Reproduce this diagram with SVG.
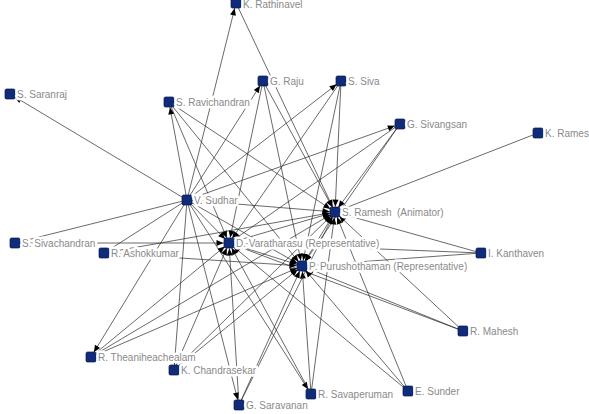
<svg xmlns="http://www.w3.org/2000/svg" width="589" height="414" viewBox="0 0 589 414">
<style>
.bg{fill:#ffffff}
.e line{stroke:#2a2a2a;stroke-width:0.7;fill:none}
.a{marker-end:url(#ah)}
.b{marker-end:url(#ah);marker-start:url(#ahs)}
.n rect{fill:#102b7a;stroke:#0a1640;stroke-width:0.7}
.n text{font-family:"Liberation Sans",Arial,sans-serif;font-size:10px;fill:#8a8a8a;stroke:#ffffff;stroke-width:5;stroke-linejoin:round;paint-order:stroke}
</style>
<defs>
<marker id="ah" markerUnits="userSpaceOnUse" markerWidth="14" markerHeight="6" refX="12.5" refY="3" orient="auto" overflow="visible">
<path d="M0,0 L7,3 L0,6 z" fill="#000"/>
</marker>
<marker id="ahs" markerUnits="userSpaceOnUse" markerWidth="14" markerHeight="6" refX="12.5" refY="3" orient="auto-start-reverse" overflow="visible">
<path d="M0,0 L7,3 L0,6 z" fill="#000"/>
</marker>
</defs>
<rect class="bg" x="0" y="0" width="589" height="414"/>
<g id="connectors" class="e">
<line class="a" x1="187" y1="200" x2="10" y2="94"/>
<line class="a" x1="187" y1="200" x2="236" y2="3"/>
<line class="a" x1="187" y1="200" x2="169" y2="102"/>
<line class="a" x1="187" y1="200" x2="263" y2="81"/>
<line class="a" x1="187" y1="200" x2="341" y2="81"/>
<line class="a" x1="187" y1="200" x2="400" y2="124"/>
<line x1="187" y1="200" x2="15" y2="243"/>
<line x1="187" y1="200" x2="104" y2="253"/>
<line class="a" x1="187" y1="200" x2="91" y2="357"/>
<line class="a" x1="187" y1="200" x2="174" y2="370"/>
<line class="a" x1="187" y1="200" x2="239" y2="405"/>
<line class="a" x1="187" y1="200" x2="311" y2="394"/>
<line class="a" x1="187" y1="200" x2="335" y2="212"/>
<line class="a" x1="187" y1="200" x2="229" y2="243"/>
<line class="a" x1="187" y1="200" x2="302" y2="266"/>
<line class="a" x1="236" y1="3" x2="335" y2="212"/>
<line class="a" x1="169" y1="102" x2="229" y2="243"/>
<line class="a" x1="169" y1="102" x2="302" y2="266"/>
<line class="a" x1="169" y1="102" x2="335" y2="212"/>
<line class="a" x1="263" y1="81" x2="229" y2="243"/>
<line class="a" x1="263" y1="81" x2="302" y2="266"/>
<line class="a" x1="263" y1="81" x2="335" y2="212"/>
<line class="a" x1="341" y1="81" x2="229" y2="243"/>
<line class="a" x1="341" y1="81" x2="302" y2="266"/>
<line class="a" x1="341" y1="81" x2="335" y2="212"/>
<line class="a" x1="400" y1="124" x2="229" y2="243"/>
<line class="a" x1="400" y1="124" x2="302" y2="266"/>
<line class="a" x1="400" y1="124" x2="335" y2="212"/>
<line class="a" x1="538" y1="133" x2="335" y2="212"/>
<line class="a" x1="481" y1="253" x2="335" y2="212"/>
<line class="a" x1="481" y1="253" x2="229" y2="243"/>
<line class="a" x1="481" y1="253" x2="302" y2="266"/>
<line class="a" x1="463" y1="331" x2="335" y2="212"/>
<line class="a" x1="463" y1="331" x2="229" y2="243"/>
<line class="a" x1="463" y1="331" x2="302" y2="266"/>
<line class="a" x1="408" y1="391" x2="335" y2="212"/>
<line class="a" x1="408" y1="391" x2="229" y2="243"/>
<line class="a" x1="408" y1="391" x2="302" y2="266"/>
<line class="a" x1="311" y1="394" x2="335" y2="212"/>
<line class="a" x1="311" y1="394" x2="229" y2="243"/>
<line class="a" x1="311" y1="394" x2="302" y2="266"/>
<line class="a" x1="239" y1="405" x2="229" y2="243"/>
<line class="a" x1="239" y1="405" x2="302" y2="266"/>
<line class="a" x1="239" y1="405" x2="335" y2="212"/>
<line class="a" x1="174" y1="370" x2="229" y2="243"/>
<line class="a" x1="174" y1="370" x2="302" y2="266"/>
<line class="a" x1="174" y1="370" x2="335" y2="212"/>
<line class="a" x1="91" y1="357" x2="229" y2="243"/>
<line class="a" x1="91" y1="357" x2="302" y2="266"/>
<line class="a" x1="91" y1="357" x2="335" y2="212"/>
<line class="a" x1="104" y1="253" x2="335" y2="212"/>
<line class="a" x1="104" y1="253" x2="302" y2="266"/>
<line class="a" x1="15" y1="243" x2="229" y2="243"/>
<line class="b" x1="229" y1="243" x2="302" y2="266"/>
<line class="b" x1="229" y1="243" x2="335" y2="212"/>
<line class="b" x1="302" y1="266" x2="335" y2="212"/>
</g>
<g id="n-rathinavel" class="n"><rect x="231" y="-2" width="10" height="10" rx="1.5"/><text x="243" y="8">K. Rathinavel</text></g>
<g id="n-raju" class="n"><rect x="258" y="76" width="10" height="10" rx="1.5"/><text x="270" y="85">G. Raju</text></g>
<g id="n-saranraj" class="n"><rect x="5" y="89" width="10" height="10" rx="1.5"/><text x="17" y="98">S. Saranraj</text></g>
<g id="n-ravichandran" class="n"><rect x="164" y="97" width="10" height="10" rx="1.5"/><text x="176" y="106">S. Ravichandran</text></g>
<g id="n-siva" class="n"><rect x="336" y="76" width="10" height="10" rx="1.5"/><text x="348" y="85">S. Siva</text></g>
<g id="n-sivangsan" class="n"><rect x="395" y="119" width="10" height="10" rx="1.5"/><text x="407" y="128">G. Sivangsan</text></g>
<g id="n-rames" class="n"><rect x="533" y="128" width="10" height="10" rx="1.5"/><text x="545" y="137">K. Rames</text></g>
<g id="n-sudhar" class="n"><rect x="182" y="195" width="10" height="10" rx="1.5"/><text x="194" y="204">V. Sudhar</text></g>
<g id="n-sivachandran" class="n"><rect x="10" y="238" width="10" height="10" rx="1.5"/><text x="22" y="247">S. Sivachandran</text></g>
<g id="n-ashokkumar" class="n"><rect x="99" y="248" width="10" height="10" rx="1.5"/><text x="111" y="257">R. Ashokkumar</text></g>
<g id="n-ramesh" class="n"><rect x="330" y="207" width="10" height="10" rx="1.5"/><text x="342" y="216" xml:space="preserve">S. Ramesh  (Animator)</text></g>
<g id="n-varatharasu" class="n"><rect x="224" y="238" width="10" height="10" rx="1.5"/><text x="236" y="247">D. Varatharasu (Representative)</text></g>
<g id="n-kanthaven" class="n"><rect x="476" y="248" width="10" height="10" rx="1.5"/><text x="488" y="257">I. Kanthaven</text></g>
<g id="n-purushothaman" class="n"><rect x="297" y="261" width="10" height="10" rx="1.5"/><text x="309" y="270">P. Purushothaman (Representative)</text></g>
<g id="n-theaniheachealam" class="n"><rect x="86" y="352" width="10" height="10" rx="1.5"/><text x="98" y="361">R. Theaniheachealam</text></g>
<g id="n-chandrasekar" class="n"><rect x="169" y="365" width="10" height="10" rx="1.5"/><text x="181" y="374">K. Chandrasekar</text></g>
<g id="n-mahesh" class="n"><rect x="458" y="326" width="10" height="10" rx="1.5"/><text x="470" y="335">R. Mahesh</text></g>
<g id="n-savaperuman" class="n"><rect x="306" y="389" width="10" height="10" rx="1.5"/><text x="318" y="398">R. Savaperuman</text></g>
<g id="n-sunder" class="n"><rect x="403" y="386" width="10" height="10" rx="1.5"/><text x="415" y="395">E. Sunder</text></g>
<g id="n-saravanan" class="n"><rect x="234" y="400" width="10" height="10" rx="1.5"/><text x="246" y="409">G. Saravanan</text></g>
</svg>
